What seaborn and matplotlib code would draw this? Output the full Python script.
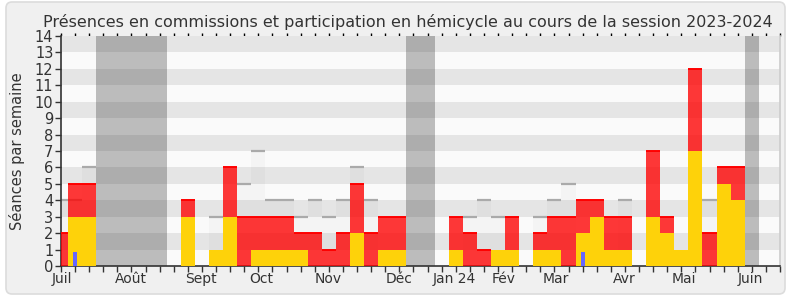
import matplotlib
matplotlib.use("Agg")
import matplotlib.pyplot as plt
import seaborn as sns
import pandas as pd
from matplotlib.patches import FancyBboxPatch

# ---------------- data (one entry per week of the session) ----------------
weeks = list(range(51))
commission_total = [2, 5, 5, 0, 0, 0, 0, 0, 0, 4,
                    0, 1, 6, 3, 3, 3, 3, 2, 2, 1,
                    2, 5, 2, 3, 3, 0, 0, 0, 3, 2,
                    1, 1, 3, 0, 2, 3, 3, 4, 4, 3,
                    3, 0, 7, 3, 1, 12, 2, 6, 6, 0,
                    0]
hemicycle = [0, 3, 3, 0, 0, 0, 0, 0, 0, 3,
             0, 1, 3, 0, 1, 1, 1, 1, 0, 0,
             0, 2, 0, 1, 1, 0, 0, 0, 1, 0,
             0, 1, 1, 0, 1, 1, 0, 2, 3, 1,
             1, 0, 3, 2, 1, 7, 0, 5, 4, 0,
             0]
questions = [0, 0.85, 0, 0, 0, 0, 0, 0, 0, 0,
             0, 0, 0, 0, 0, 0, 0, 0, 0, 0,
             0, 0, 0, 0, 0, 0, 0, 0, 0, 0,
             0, 0, 0, 0, 0, 0, 0, 0.85, 0, 0,
             0, 0, 0, 0, 0, 0, 0, 0, 0, 0,
             0]
median = [4, 4, 6, 0, 0, 0, 0, 0, 0, 0,
          0, 3, 0, 5, 7, 4, 4, 3, 4, 3,
          4, 6, 4, 0, 0, 0, 0, 0, 0, 3,
          4, 3, 0, 0, 3, 4, 5, 0, 0, 0,
          4, 0, 0, 0, 0, 0, 4, 0, 0, 0,
          0]
vacation_starts = [3, 25, 49]
vacation_ends = [7, 26, 49]
month_labels = ["Juil", "Août", "Sept", "Oct", "Nov", "Déc",
                "Jan 24", "Fév", "Mar", "Avr", "Mai", "Juin"]
month_pos = [0.05, 4.97, 9.95, 14.17, 18.96, 24.0,
             27.9, 31.4, 35.1, 39.95, 44.2, 48.9]
y_ticks = list(range(15))
title = "Présences en commissions et participation en hémicycle au cours de la session 2023-2024"
ylabel = "Séances par semaine"

# ---------------- style ----------------
sns.set_theme(style="white")
plt.rcParams["font.family"] = ["DejaVu Sans"]
TXT = "#333333"

df = pd.DataFrame({"week": weeks, "total": commission_total,
                   "hemi": hemicycle, "quest": questions, "median": median})

fig = plt.figure(figsize=(7.9, 3.0), dpi=100)
fig.patch.set_facecolor("white")
box = FancyBboxPatch((6, 6), 779, 292, boxstyle="round,pad=0,rounding_size=6",
                     transform=None, facecolor="#f0f0f0", edgecolor="#dcdcdc",
                     linewidth=1.2, zorder=-10)
fig.add_artist(box)

ax = fig.add_axes([61 / 790, 34 / 300, 719 / 790, 230 / 300])
ax.set_facecolor("#fafafa")

# stripes
for k in range(0, 14, 2):
    ax.axhspan(k + 1, k + 2, color="#e5e5e5", lw=0, zorder=0.5)
# vacations
for s, e in zip(vacation_starts, vacation_ends):
    ax.axvspan(s - 0.5, e + 0.5, color="#252525", alpha=0.29, lw=0, zorder=1.5)

# median of deputies (light overlay + line)
sns.barplot(data=df, x="week", y="median", color="black", alpha=0.025,
            width=1, linewidth=0, saturation=1, errorbar=None, ax=ax, zorder=2)
for i, m in zip(weeks, median):
    if m > 0:
        ax.hlines(m, i - 0.5, i + 0.5, color="#aaaaaa", lw=1.6, zorder=2.2)

# commission presences (red)
sns.barplot(data=df, x="week", y="total", color="#ff0000", alpha=0.78,
            width=1, linewidth=0, saturation=1, errorbar=None, ax=ax, zorder=3)
for i, t, h in zip(weeks, commission_total, hemicycle):
    if t > h:
        ax.hlines(t, i - 0.5, i + 0.5, color="#ff0000", lw=1.4, zorder=3.2)

# hemicycle participation (yellow)
sns.barplot(data=df, x="week", y="hemi", color="#fed20a",
            width=1, linewidth=0, saturation=1, errorbar=None, ax=ax, zorder=4)
# oral questions (blue)
sns.barplot(data=df, x="week", y="quest", color="#6666ff",
            width=0.3, linewidth=0, saturation=1, errorbar=None, ax=ax, zorder=5)

ax.set_xlim(0, 51)
ax.set_ylim(0, 14)
ax.set_xlabel("")
ax.set_ylabel(ylabel, fontsize=10.5, color=TXT, labelpad=7)

ax.xaxis.remove_overlapping_locs = False
ax.set_xticks(list(range(52)))
ax.set_xticklabels([])
ax.set_xticks(month_pos, minor=True)
ax.set_xticklabels(month_labels, minor=True)
ax.tick_params(axis="x", which="major", bottom=True, length=4.5, width=1,
               color=TXT, direction="out")
ax.tick_params(axis="x", which="minor", bottom=True, length=0, pad=4,
               labelsize=10, labelcolor=TXT)
ax.set_yticks(y_ticks)
ax.set_yticklabels([str(v) for v in y_ticks])
ax.tick_params(axis="y", left=True, length=4.5, width=1, color=TXT,
               labelsize=10.5, labelcolor=TXT, pad=1)

sec = ax.secondary_xaxis("top")
sec.set_xticks(list(range(52)))
sec.set_xticklabels([])
sec.tick_params(length=2, width=1, color="#000000", direction="out")
sec.spines["top"].set_visible(False)

for sp in ["left", "bottom"]:
    ax.spines[sp].set_color(TXT)
    ax.spines[sp].set_linewidth(1.2)
ax.spines["top"].set_visible(False)
ax.spines["right"].set_color("#cccccc")
ax.spines["right"].set_linewidth(1.2)

fig.text(0.516, 0.928, title, ha="center", va="center", fontsize=11.5, color=TXT)

fig.savefig("out.png", dpi=100, facecolor="white")
